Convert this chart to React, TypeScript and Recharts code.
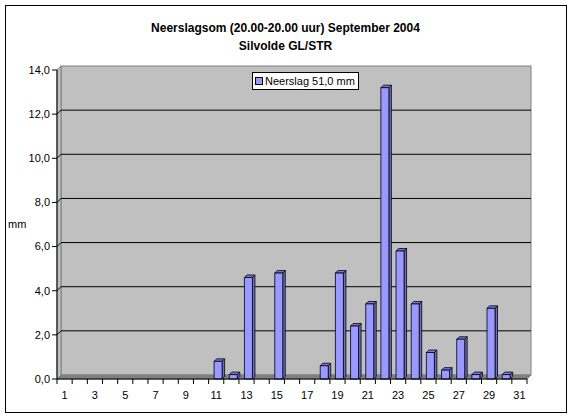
import * as React from 'react';
import { BarChart, Bar, XAxis, YAxis, CartesianGrid } from 'recharts';

// dag van de maand
const days = [
  '1', '2', '3', '4', '5', '6', '7', '8', '9', '10',
  '11', '12', '13', '14', '15', '16', '17', '18', '19', '20',
  '21', '22', '23', '24', '25', '26', '27', '28', '29', '30', '31',
];

// neerslag in mm per dag
const neerslag = [
  0, 0, 0, 0, 0, 0, 0, 0, 0, 0,
  0.8, 0.2, 4.6, 0, 4.8, 0, 0, 0.6, 4.8, 2.4,
  3.4, 13.2, 5.8, 3.4, 1.2, 0.4, 1.8, 0.2, 3.2, 0.2, 0,
];

const yTicks = [0, 2, 4, 6, 8, 10, 12, 14];
const titleLines = ['Neerslagsom (20.00-20.00 uur) September 2004', 'Silvolde GL/STR'];
const seriesName = 'Neerslag 51,0 mm';
const unit = 'mm';

const W = 571;
const H = 417;
const PLOT_L = 57;
const PLOT_R = 527;
const PLOT_T = 70;
const PLOT_B = 379;
const DEPTH = 4;
const BAND = (PLOT_R - PLOT_L) / days.length;
const FONT = '"Liberation Sans", Arial, sans-serif';

const data = days.map((d, i) => ({ day: d, mm: neerslag[i] }));

const fmt = (v: number) => v.toFixed(1).replace('.', ',');

const Bar3D = (props: any) => {
  const { x, y, width, height, value } = props;
  if (!value || height <= 0) return <g />;
  const d = 2.5;
  const fx = x + 1.5;
  const w = width;
  return (
    <g stroke="#000" strokeWidth={0.8} strokeLinejoin="round">
      <polygon
        points={`${fx + w},${y} ${fx + w + d},${y - d} ${fx + w + d},${y + height - d} ${fx + w},${y + height}`}
        fill="#6b6bd6"
      />
      <polygon
        points={`${fx},${y} ${fx + d},${y - d} ${fx + w + d},${y - d} ${fx + w},${y}`}
        fill="#7a7ae0"
      />
      <rect x={fx} y={y} width={w} height={height} fill="#9999ff" />
    </g>
  );
};

const XTick = (props: any) => {
  const { x, payload, index } = props;
  const i = payload && payload.index !== undefined ? payload.index : index;
  const left = x - BAND / 2;
  return (
    <g>
      <line x1={left} y1={PLOT_B} x2={left} y2={PLOT_B + 5} stroke="#000" />
      {i === days.length - 1 && (
        <line x1={x + BAND / 2} y1={PLOT_B} x2={x + BAND / 2} y2={PLOT_B + 5} stroke="#000" />
      )}
      {i % 2 === 0 && (
        <text x={x} y={PLOT_B + 20} textAnchor="middle" fontSize={11} fill="#000" fontFamily={FONT}>
          {payload.value}
        </text>
      )}
    </g>
  );
};

const GridLine = (props: any) => {
  const { x1, y1, x2 } = props;
  if (Math.abs(y1 - PLOT_T) < 1 || Math.abs(y1 - PLOT_B) < 1) return <g />;
  return (
    <g stroke="#000" strokeWidth={1}>
      <line x1={x1} y1={y1} x2={x1 + DEPTH} y2={y1 - DEPTH} />
      <line x1={x1 + DEPTH} y1={y1 - DEPTH} x2={x2 + DEPTH} y2={y1 - DEPTH} />
    </g>
  );
};

const Walls = () => (
  <svg width={W} height={H} style={{ position: 'absolute', left: 0, top: 0 }}>
    <rect
      x={PLOT_L + DEPTH}
      y={PLOT_T - DEPTH}
      width={PLOT_R - PLOT_L}
      height={PLOT_B - PLOT_T}
      fill="#c0c0c0"
      stroke="#808080"
    />
    <polygon
      points={`${PLOT_L},${PLOT_T} ${PLOT_L + DEPTH},${PLOT_T - DEPTH} ${PLOT_L + DEPTH},${PLOT_B - DEPTH} ${PLOT_L},${PLOT_B}`}
      fill="#c0c0c0"
      stroke="#808080"
    />
    <polygon
      points={`${PLOT_L},${PLOT_B} ${PLOT_L + DEPTH},${PLOT_B - DEPTH} ${PLOT_R + DEPTH},${PLOT_B - DEPTH} ${PLOT_R},${PLOT_B}`}
      fill="#808080"
      stroke="#808080"
    />
  </svg>
);

export default function App() {
  return (
    <div style={{ position: 'absolute', left: 0, top: 0, width: W, height: H, background: '#fff', fontFamily: FONT }}>
      <div style={{ position: 'absolute', left: 5, top: 5, width: 560, height: 406, border: '1px solid #000' }} />
      <Walls />
      <div style={{ position: 'absolute', left: 0, top: 0 }}>
        <BarChart
          width={W}
          height={H}
          data={data}
          margin={{ top: PLOT_T, right: W - PLOT_R, bottom: H - PLOT_B - 30, left: 0 }}
          barSize={8}
        >
          <CartesianGrid vertical={false} horizontal={(p: any) => <GridLine key={p.key} {...p} />} fill="none" />
          <XAxis
            dataKey="day"
            height={30}
            interval={0}
            tickLine={false}
            axisLine={{ stroke: '#000' }}
            tick={<XTick />}
          />
          <YAxis
            width={PLOT_L}
            domain={[0, 14]}
            ticks={yTicks}
            interval={0}
            tickFormatter={fmt}
            tickSize={5}
            tickMargin={2}
            tick={{ fontSize: 11, fill: '#000', fontFamily: FONT }}
            tickLine={{ stroke: '#000' }}
            axisLine={{ stroke: '#000' }}
            label={{ value: unit, position: 'insideLeft', offset: 8, angle: 0, fontSize: 11, fill: '#000', fontFamily: FONT }}
          />
          <Bar dataKey="mm" name={seriesName} isAnimationActive={false} shape={<Bar3D />} />
        </BarChart>
      </div>
      <div
        style={{
          position: 'absolute',
          left: 0,
          top: 19,
          width: W,
          textAlign: 'center',
          fontSize: 12,
          fontWeight: 'bold',
          lineHeight: '18px',
        }}
      >
        {titleLines.map((t) => (
          <div key={t}>{t}</div>
        ))}
      </div>
      <div
        style={{
          position: 'absolute',
          left: 252,
          top: 72,
          height: 16,
          paddingRight: 3,
          border: '1px solid #000',
          background: '#fff',
          fontSize: 11,
          display: 'flex',
          alignItems: 'center',
          whiteSpace: 'nowrap',
        }}
      >
        <span
          style={{
            flex: '0 0 auto',
            boxSizing: 'border-box',
            width: 8,
            height: 8,
            background: '#9999ff',
            border: '1px solid #000',
            marginLeft: 2,
            marginRight: 2,
          }}
        />
        {seriesName}
      </div>
    </div>
  );
}
